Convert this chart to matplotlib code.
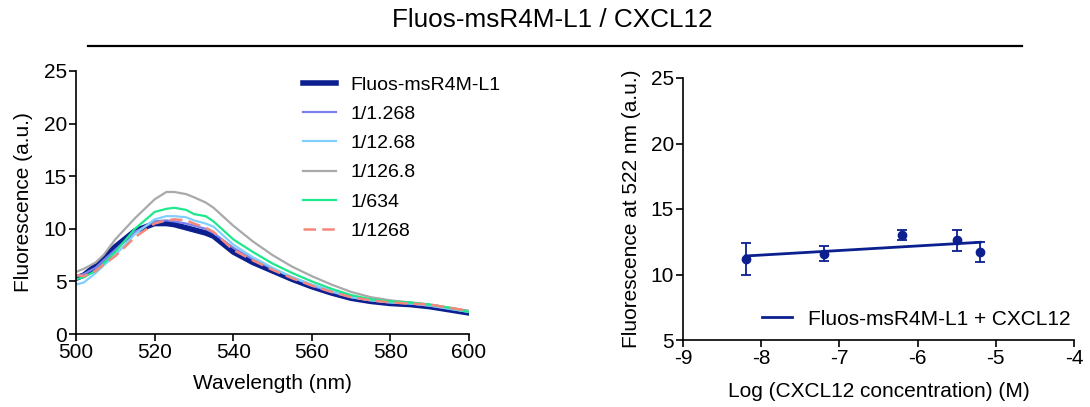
import matplotlib
matplotlib.use("Agg")
import matplotlib.pyplot as plt
from matplotlib.lines import Line2D
import numpy as np

plt.rcParams["font.family"] = ["Liberation Sans", "DejaVu Sans"]
plt.rcParams["axes.unicode_minus"] = False

# --- espectros (nm, a.u.) ---
WL = [500, 502, 505, 507, 510, 515, 520, 523, 525, 528, 530, 533, 535, 540, 545,
      550, 555, 560, 565, 570, 575, 580, 585, 590, 595, 600]
F_base = [5.3, 5.6, 6.5, 7.2, 8.3, 9.8, 10.5, 10.5, 10.4, 10.1, 9.9, 9.6, 9.3, 7.8, 6.8,
          6.0, 5.2, 4.5, 3.9, 3.4, 3.1, 2.9, 2.8, 2.6, 2.3, 2.0]
F_1268a = [5.5, 5.7, 6.3, 7.0, 8.0, 9.7, 10.7, 10.8, 10.7, 10.5, 10.3, 10.0, 9.6, 8.2, 7.1,
           6.2, 5.4, 4.6, 4.0, 3.5, 3.2, 3.0, 2.9, 2.7, 2.4, 2.1]
F_1268b = [4.7, 4.9, 5.8, 6.5, 7.5, 9.5, 10.9, 11.2, 11.2, 11.1, 10.8, 10.5, 10.2, 8.5, 7.3,
           6.3, 5.4, 4.7, 4.1, 3.5, 3.2, 3.0, 2.9, 2.7, 2.4, 2.1]
F_1268c = [5.9, 6.2, 6.8, 7.5, 9.0, 11.0, 12.8, 13.5, 13.5, 13.3, 13.0, 12.5, 12.0, 10.3, 8.8,
           7.5, 6.4, 5.5, 4.7, 4.0, 3.5, 3.2, 3.0, 2.8, 2.5, 2.2]
F_634 = [5.2, 5.4, 6.0, 6.7, 7.8, 10.0, 11.6, 11.9, 12.0, 11.8, 11.4, 11.2, 10.7, 9.0, 7.8,
         6.7, 5.8, 5.0, 4.3, 3.7, 3.3, 3.1, 3.0, 2.8, 2.5, 2.1]
F_1268 = [5.6, 5.5, 6.0, 6.6, 7.4, 9.2, 10.5, 10.8, 10.9, 10.8, 10.5, 10.1, 9.7, 8.0, 7.0,
          6.1, 5.3, 4.6, 4.0, 3.5, 3.2, 3.0, 2.9, 2.8, 2.5, 2.2]

SERIES = [
    ("Fluos-msR4M-L1", F_base, "#0b1f8f", 4.0, "-"),
    ("1/1.268", F_1268a, "#7b80ef", 1.6, "-"),
    ("1/12.68", F_1268b, "#80cfff", 1.6, "-"),
    ("1/126.8", F_1268c, "#a9a9a9", 1.6, "-"),
    ("1/634", F_634, "#1fe88c", 1.6, "-"),
    ("1/1268", F_1268, "#f5887b", 1.8, (0, (5, 2.5))),
]

# --- fluorescencia a 522 nm vs log[CXCL12] ---
LOGC = [-8.2, -7.2, -6.2, -5.5, -5.2]
F522 = [11.2, 11.6, 13.0, 12.6, 11.7]
ERR = [1.2, 0.6, 0.4, 0.8, 0.75]

NAVY = "#0b1f8f"
W, H = 1090, 407

fig = plt.figure(figsize=(W / 100, H / 100), dpi=100)
fig.text(552 / W, 1 - 27 / H, "Fluos-msR4M-L1 / CXCL12", ha="center", va="baseline",
         fontsize=18.8)
fig.add_artist(Line2D([88 / W, 1022 / W], [1 - 46 / H, 1 - 46 / H], color="black", lw=1.6))


def style(ax):
    for s in ("top", "right"):
        ax.spines[s].set_visible(False)
    for s in ("left", "bottom"):
        ax.spines[s].set_linewidth(1.2)
    ax.tick_params(direction="out", width=1.2, length=5, pad=1.5, labelsize=15)


# --- panel izquierdo ---
ax1 = fig.add_axes([76 / W, 1 - 334 / H, 393 / W, 263 / H])
for name, vals, col, lw, ls in SERIES:
    ax1.plot(WL, vals, color=col, lw=lw, ls=ls, label=name)
ax1.set_xlim(500, 600)
ax1.set_ylim(0, 25)
ax1.set_xticks([500, 520, 540, 560, 580, 600])
ax1.set_yticks([0, 5, 10, 15, 20, 25])
ax1.set_xlabel("Wavelength (nm)", fontsize=15)
ax1.set_ylabel("Fluorescence (a.u.)", fontsize=15)
ax1.xaxis.set_label_coords(0.5, -0.152)
ax1.yaxis.set_label_coords(-0.109, 0.5)
style(ax1)
ax1.legend(loc="upper left", bbox_to_anchor=(0.578, 0.981), frameon=False, fontsize=14,
           handlelength=1.7, handletextpad=0.72, labelspacing=0.6,
           borderpad=0, borderaxespad=0)

# --- panel derecho ---
ax2 = fig.add_axes([683 / W, 1 - 340 / H, 391 / W, 262 / H])
ax2.errorbar(LOGC, F522, yerr=ERR, fmt="o", color=NAVY, ms=6, capsize=3.5,
             elinewidth=1.3, capthick=1.3)
k, b = np.polyfit(LOGC, F522, 1)
xf = np.array([min(LOGC), max(LOGC)])
ax2.plot(xf, k * xf + b, color=NAVY, lw=2, label="Fluos-msR4M-L1 + CXCL12")
ax2.set_xlim(-9, -4)
ax2.set_ylim(5, 25)
ax2.set_xticks([-9, -8, -7, -6, -5, -4])
ax2.set_yticks([5, 10, 15, 20, 25])
ax2.set_xlabel("Log (CXCL12 concentration) (M)", fontsize=15)
ax2.set_ylabel("Fluorescence at 522 nm (a.u.)", fontsize=15)
ax2.xaxis.set_label_coords(0.5, -0.16)
ax2.yaxis.set_label_coords(-0.107, 0.5)
style(ax2)
ax2.legend(loc="center left", bbox_to_anchor=(0.202, 0.08), frameon=False, fontsize=15,
           handlelength=1.45, handletextpad=0.77, borderpad=0, borderaxespad=0)

fig.savefig("out.png", dpi=100)
